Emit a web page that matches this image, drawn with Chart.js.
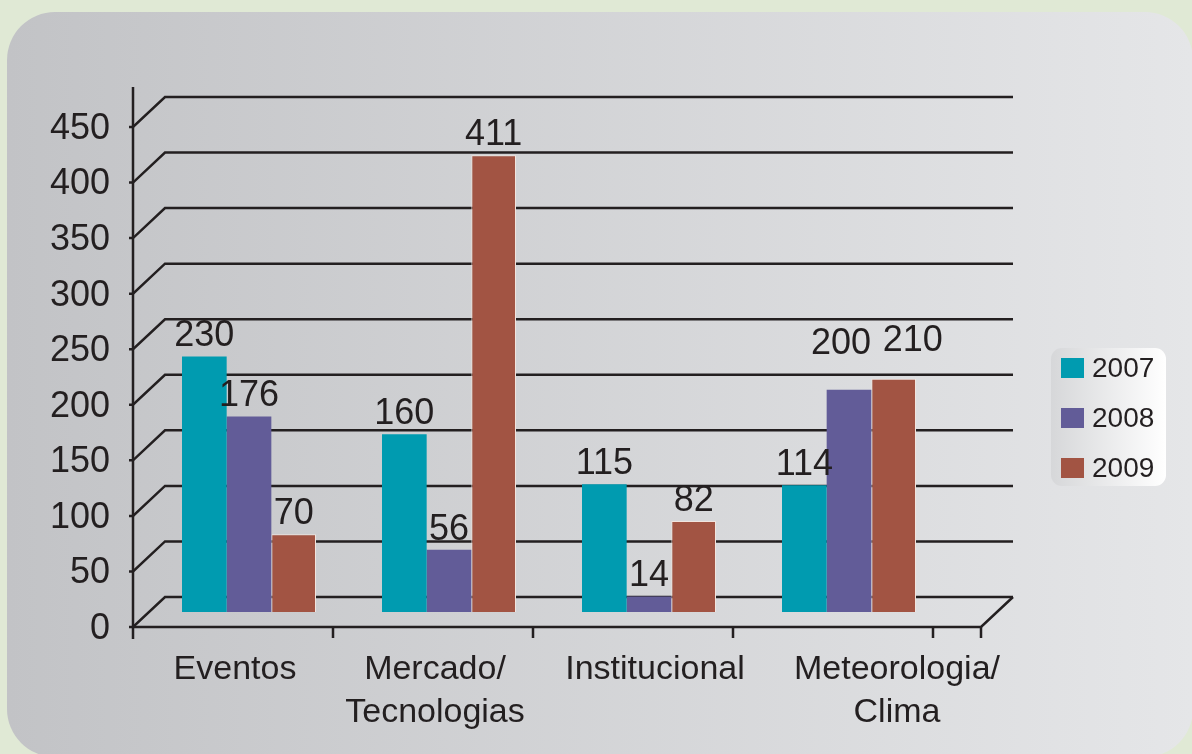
<!DOCTYPE html>
<html>
<head>
<meta charset="utf-8">
<script src="https://cdn.jsdelivr.net/npm/chart.js@4.4.0/dist/chart.umd.min.js"></script>
<style>
  html, body { margin: 0; padding: 0; background: #e0e9d5; overflow: hidden; }
  #panel {
    position: absolute; left: 7px; top: 12px; width: 1186px; height: 745px;
    border-radius: 48px;
    background: linear-gradient(to right, #c2c3c6, #e5e6e8);
  }
  #wrap { position: absolute; left: 0; top: 0; width: 1192px; height: 754px; }
</style>
</head>
<body>
<div id="panel"></div>
<div id="wrap"><canvas id="chart" width="1192" height="754"></canvas></div>
<script>
const categories = [['Eventos'], ['Mercado/', 'Tecnologias'], ['Institucional'], ['Meteorologia/', 'Clima']];
const years = ['2007', '2008', '2009'];
const values2007 = [230, 160, 115, 114];
const values2008 = [176, 56, 14, 200];
const values2009 = [70, 411, 82, 210];
const yMax = 450;
const yStep = 50;

const INK = '#231f20';
const COLORS = ['#009bb0', '#625c98', '#a25443'];
const FONT = "'Liberation Sans', Arial, sans-serif";

// fake depth of the 3d frame
const DX = 16, DY = 15, EXT = 48;
// small hand nudges, like the original layout
const catLabelShift = [0, 0, 20, 62];
const valueLabelShift = { '1-3': [-8, -26], '2-3': [19, -18] };

Chart.defaults.font.family = FONT;
Chart.defaults.color = INK;

const frame3d = {
  id: 'frame3d',
  beforeDatasetsDraw(chart) {
    const { ctx, chartArea: ca, scales: { x, y } } = chart;
    ctx.save();
    ctx.strokeStyle = INK;
    ctx.lineWidth = 2.5;
    const fx = ca.left - DX;
    for (let v = 0; v <= yMax; v += yStep) {
      const py = y.getPixelForValue(v);
      ctx.beginPath();
      ctx.moveTo(fx - 4, py + DY);
      ctx.lineTo(fx, py + DY);
      ctx.lineTo(ca.left + DX, py - DY);
      ctx.lineTo(ca.right + EXT + DX, py - DY);
      ctx.stroke();
    }
    // vertical axis
    ctx.beginPath();
    ctx.moveTo(fx, ca.top - 25);
    ctx.lineTo(fx, ca.bottom + DY + 12);
    ctx.stroke();
    // front floor edge
    const fy = ca.bottom + DY;
    ctx.beginPath();
    ctx.moveTo(fx, fy);
    ctx.lineTo(ca.right + EXT - DX, fy);
    ctx.lineTo(ca.right + EXT + DX, ca.bottom - DY);
    ctx.stroke();
    // ticks at category boundaries
    const w = (ca.right - ca.left) / categories.length;
    const tx = [];
    for (let i = 1; i <= categories.length; i++) tx.push(ca.left + i * w - DX);
    tx.push(ca.right + EXT - DX);
    ctx.beginPath();
    for (const t of tx) {
      ctx.moveTo(t, fy);
      ctx.lineTo(t, fy + 11);
    }
    ctx.stroke();

    // category labels
    ctx.fillStyle = INK;
    ctx.font = `34px ${FONT}`;
    ctx.textAlign = 'center';
    ctx.textBaseline = 'middle';
    categories.forEach((lines, i) => {
      const cx = x.getPixelForValue(i) - DX + 2 + catLabelShift[i];
      lines.forEach((ln, k) => ctx.fillText(ln, cx, ca.bottom + 58 + k * 43));
    });
    ctx.restore();
  },
  afterDatasetsDraw(chart) {
    const { ctx } = chart;
    ctx.save();
    ctx.fillStyle = INK;
    ctx.font = `36px ${FONT}`;
    ctx.textAlign = 'center';
    ctx.textBaseline = 'bottom';
    chart.data.datasets.forEach((ds, di) => {
      const meta = chart.getDatasetMeta(di);
      meta.data.forEach((bar, i) => {
        const s = valueLabelShift[di + '-' + i] || [0, 0];
        ctx.fillText(String(ds.data[i]), bar.x + s[0], bar.y - 2 + s[1]);
      });
    });
    ctx.restore();
  },
  afterDraw(chart) {
    const { ctx, chartArea: ca } = chart;
    const lx = ca.right + 102, ly = ca.bottom - 264, lw = 115, lh = 138;
    ctx.save();
    const g = ctx.createLinearGradient(lx, 0, lx + lw, 0);
    g.addColorStop(0, '#d6d7d9');
    g.addColorStop(1, '#ffffff');
    ctx.fillStyle = g;
    ctx.beginPath();
    ctx.roundRect(lx, ly, lw, lh, 11);
    ctx.fill();
    ctx.font = `28px ${FONT}`;
    ctx.textBaseline = 'middle';
    ctx.textAlign = 'left';
    chart.data.datasets.forEach((ds, i) => {
      const cy = ly + 20 + i * 50;
      ctx.fillStyle = ds.backgroundColor;
      ctx.fillRect(lx + 10, cy - 10, 23, 20);
      ctx.fillStyle = INK;
      ctx.fillText(ds.label, lx + 41, cy + 1);
    });
    ctx.restore();
  }
};

new Chart(document.getElementById('chart'), {
  type: 'bar',
  data: {
    labels: categories,
    datasets: [
      { label: years[0], data: values2007, backgroundColor: COLORS[0], borderWidth: 0 },
      { label: years[1], data: values2008, backgroundColor: COLORS[1], borderWidth: 0 },
      { label: years[2], data: values2009, backgroundColor: COLORS[2], borderColor: '#f1e4de', borderWidth: 1 },
    ],
  },
  options: {
    responsive: false,
    animation: false,
    layout: { padding: { top: 112, right: 243, left: 0, bottom: 0 } },
    datasets: { bar: { categoryPercentage: 0.67, barPercentage: 1.0 } },
    plugins: { legend: { display: false }, tooltip: { enabled: false } },
    scales: {
      x: {
        grid: { display: false },
        border: { display: false },
        ticks: { display: false },
        afterFit(s) { s.height = 142; },
      },
      y: {
        min: 0,
        max: yMax,
        grid: { display: false },
        border: { display: false },
        ticks: { stepSize: yStep, font: { size: 36 }, color: INK, padding: 31, labelOffset: 17 },
        afterFit(s) { s.width = 149; },
      },
    },
  },
  plugins: [frame3d],
});
</script>
</body>
</html>
